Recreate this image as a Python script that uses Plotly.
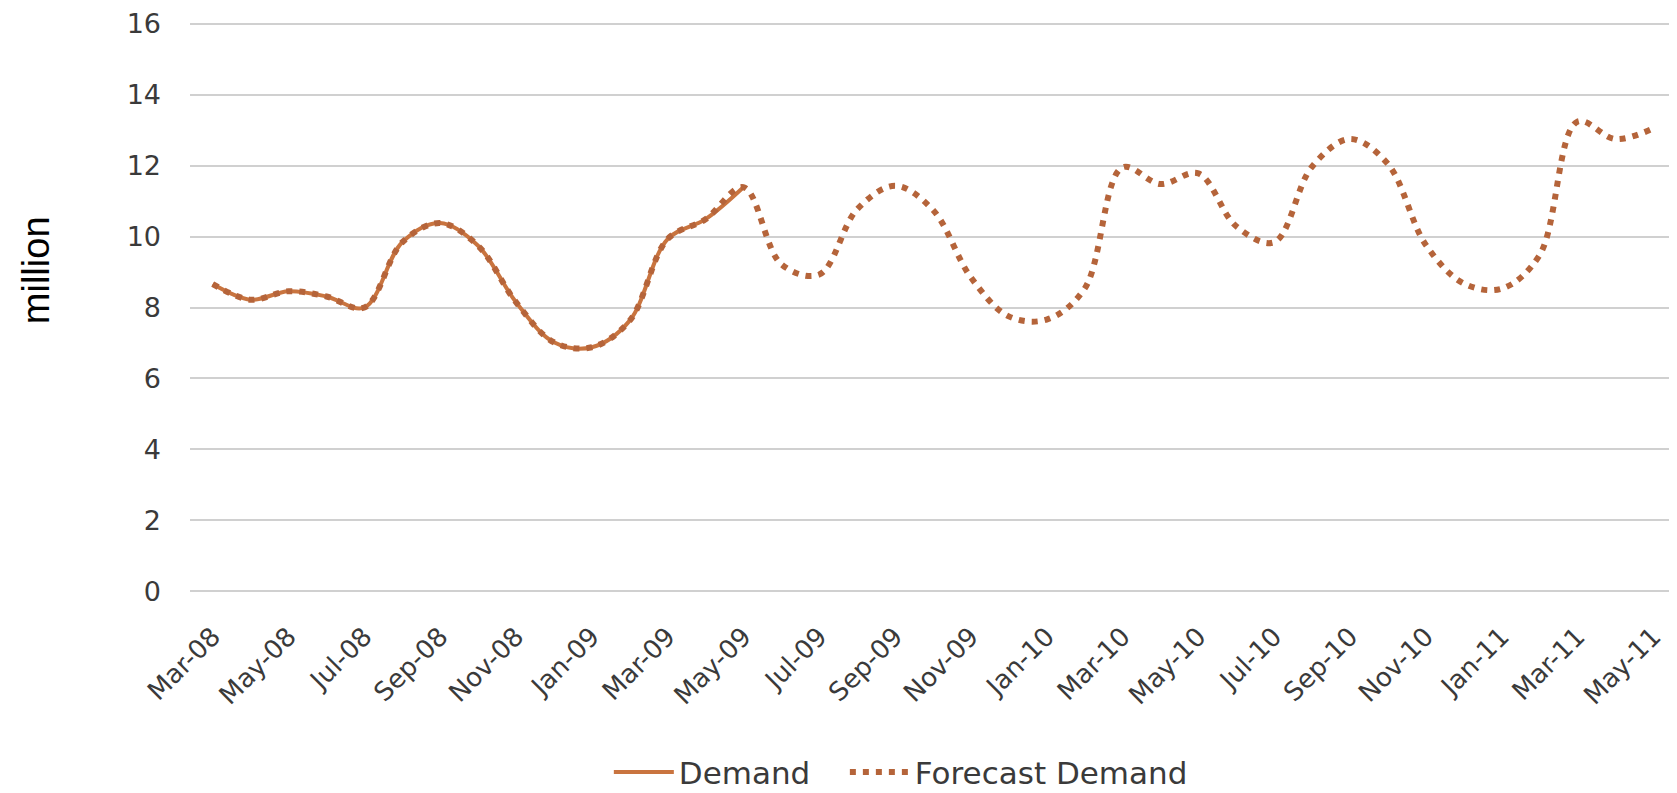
import plotly.graph_objects as go

# Monthly series, Mar-08 .. May-11 (values in million)
months = [
    "Mar-08", "Apr-08", "May-08", "Jun-08", "Jul-08", "Aug-08", "Sep-08", "Oct-08",
    "Nov-08", "Dec-08", "Jan-09", "Feb-09", "Mar-09", "Apr-09", "May-09", "Jun-09",
    "Jul-09", "Aug-09", "Sep-09", "Oct-09", "Nov-09", "Dec-09", "Jan-10", "Feb-10",
    "Mar-10", "Apr-10", "May-10", "Jun-10", "Jul-10", "Aug-10", "Sep-10", "Oct-10",
    "Nov-10", "Dec-10", "Jan-11", "Feb-11", "Mar-11", "Apr-11", "May-11",
]

demand = [8.66, 8.22, 8.46, 8.31, 8.00, 9.84, 10.38, 9.74, 8.15, 7.02, 6.88, 7.63,
          9.93, 10.49, 11.39]

forecast_demand = [8.66, 8.22, 8.46, 8.31, 8.00, 9.84, 10.38, 9.74, 8.15, 7.02, 6.88,
                   7.63, 9.93, 10.49, 11.39, 9.22, 8.93, 10.77, 11.43, 10.75, 8.85,
                   7.75, 7.66, 8.53, 11.95, 11.48, 11.78, 10.29, 9.84, 11.97, 12.75,
                   12.05, 9.77, 8.68, 8.53, 9.47, 13.24, 12.75, 13.05]

y_ticks = [0, 2, 4, 6, 8, 10, 12, 14, 16]

SOLID = "#C9743F"
DOTTED = "#B5643A"
TEXT = "#3A3A3A"
GRID = "#D0D0D0"
FONT = "DejaVu Sans"

fig = go.Figure()
fig.add_trace(go.Scatter(
    x=months[:len(demand)], y=demand, name="Demand" + "\u00a0" * 3,
    mode="lines", line=dict(color=SOLID, width=4, shape="spline", smoothing=1),
))
fig.add_trace(go.Scatter(
    x=months, y=forecast_demand, name="Forecast Demand",
    mode="lines",
    line=dict(color=DOTTED, width=6, dash="6px,7px", shape="spline", smoothing=1),
))

# the page body adds an 8px offset, so the figure is 8px smaller than the window
fig.update_layout(
    width=1669, height=785,
    margin=dict(l=182, r=3, t=14, b=200, autoexpand=False),
    paper_bgcolor="white", plot_bgcolor="white",
    font=dict(family=FONT, color=TEXT, size=22),
    showlegend=True,
    legend=dict(orientation="h", x=0.479, xanchor="center", y=-0.314, yanchor="middle",
                font=dict(size=31, color=TEXT), itemwidth=60),
    annotations=[dict(
        text="million", xref="paper", yref="paper", x=-0.1042, y=0.566,
        textangle=-90, showarrow=False, xanchor="center", yanchor="middle",
        font=dict(family="Liberation Sans", size=38, color="black"),
    )],
)
fig.update_xaxes(
    type="category", categoryorder="array", categoryarray=months,
    range=[-0.6, 38.55],
    tickmode="array", tickvals=months[::2], ticktext=months[::2],
    tickangle=-45, showgrid=False, zeroline=False, showline=False,
    ticklabelstandoff=22, automargin=False,
    tickfont=dict(size=26, color=TEXT),
)
fig.update_yaxes(
    range=[-0.05, 16.05], tickvals=y_ticks, showgrid=True, gridcolor=GRID,
    gridwidth=1.5, zeroline=False, showline=False, ticklabelstandoff=28,
    automargin=False,
    tickfont=dict(size=27, color=TEXT),
)

fig.write_html("out.html")
